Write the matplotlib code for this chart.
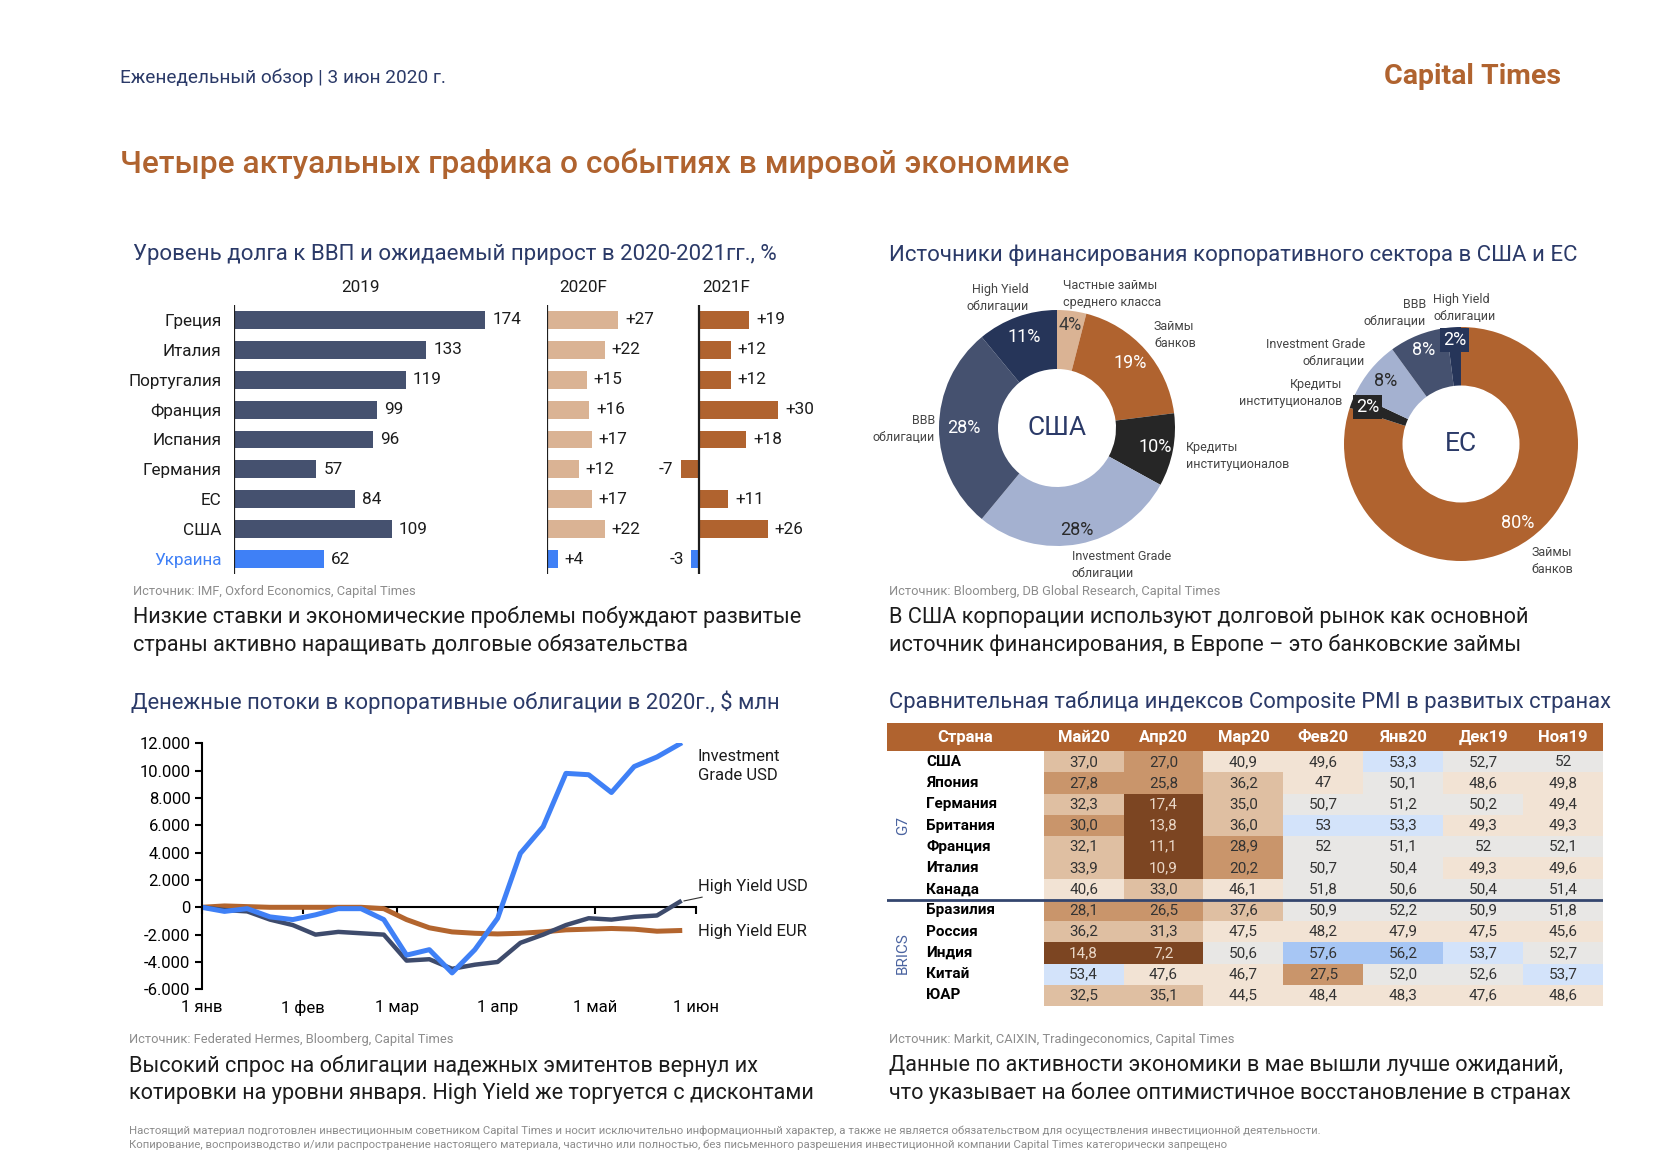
import matplotlib
matplotlib.use('Agg')
import matplotlib.pyplot as plt
import numpy as np
from matplotlib.colors import ListedColormap, BoundaryNorm

plt.rcParams['font.family'] = ['Roboto', 'DejaVu Sans']

W, H = 1680, 1162

NAVY = '#2b3a68'
BROWN = '#b0632f'
TAN = '#dab394'
SLATE = '#45516f'
DARKNAVY = '#263559'
LIGHT = '#a4b1d0'
DARK = '#262626'
BLUE = '#3f80f6'
GRAY = '#8c8c8c'
TXT = '#1c1c1c'

# --- data: debt to GDP
debt_countries = ['Греция', 'Италия', 'Португалия', 'Франция', 'Испания',
                  'Германия', 'ЕС', 'США', 'Украина']
debt_2019 = [174, 133, 119, 99, 96, 57, 84, 109, 62]
growth_2020 = [27, 22, 15, 16, 17, 12, 17, 22, 4]
growth_2021 = [19, 12, 12, 30, 18, -7, 11, 26, -3]

# --- data: financing sources
us_shares = [4, 19, 10, 28, 28, 11]
us_pct = ['4%', '19%', '10%', '28%', '28%', '11%']
eu_shares = [80, 2, 8, 8, 2]
eu_pct = ['80%', '2%', '8%', '8%', '2%']

# --- data: bond fund flows, $ mln (weekly, days since 1 Jan)
flow_days = [0, 7, 14, 21, 28, 35, 42, 49, 56, 63, 70, 77, 84, 91, 98, 105,
             112, 119, 126, 133, 140, 147]
ig_usd = [0, -300, -100, -700, -900, -550, -100, -100, -900, -3500, -3100,
          -4800, -3100, -800, 3950, 5900, 9800, 9700, 8400, 10300, 11000, 11950]
hy_usd = [0, -200, -300, -900, -1300, -2000, -1800, -1900, -2000, -3900,
          -3800, -4500, -4200, -4000, -2600, -2000, -1300, -800, -900, -700,
          -600, 400]
hy_eur = [0, 100, 50, 0, 0, 0, 0, 0, -100, -900, -1500, -1800, -1900, -1950,
          -1900, -1800, -1650, -1600, -1550, -1600, -1750, -1700]
month_days = [0, 31, 60, 91, 121, 152]
month_names = ['1 янв', '1 фев', '1 мар', '1 апр', '1 май', '1 июн']

# --- data: composite PMI
pmi_countries = ['США', 'Япония', 'Германия', 'Британия', 'Франция', 'Италия',
                 'Канада', 'Бразилия', 'Россия', 'Индия', 'Китай', 'ЮАР']
pmi_months = ['Май20', 'Апр20', 'Мар20', 'Фев20', 'Янв20', 'Дек19', 'Ноя19']
pmi_text = [
    ['37,0', '27,0', '40,9', '49,6', '53,3', '52,7', '52'],
    ['27,8', '25,8', '36,2', '47', '50,1', '48,6', '49,8'],
    ['32,3', '17,4', '35,0', '50,7', '51,2', '50,2', '49,4'],
    ['30,0', '13,8', '36,0', '53', '53,3', '49,3', '49,3'],
    ['32,1', '11,1', '28,9', '52', '51,1', '52', '52,1'],
    ['33,9', '10,9', '20,2', '50,7', '50,4', '49,3', '49,6'],
    ['40,6', '33,0', '46,1', '51,8', '50,6', '50,4', '51,4'],
    ['28,1', '26,5', '37,6', '50,9', '52,2', '50,9', '51,8'],
    ['36,2', '31,3', '47,5', '48,2', '47,9', '47,5', '45,6'],
    ['14,8', '7,2', '50,6', '57,6', '56,2', '53,7', '52,7'],
    ['53,4', '47,6', '46,7', '27,5', '52,0', '52,6', '53,7'],
    ['32,5', '35,1', '44,5', '48,4', '48,3', '47,6', '48,6'],
]


def box(l, t, r, b):
    return [l / W, 1 - b / H, (r - l) / W, (b - t) / H]


def ftext(x, y, s, **kw):
    kw.setdefault('va', 'center')
    fig.text(x / W, 1 - y / H, s, **kw)


fig = plt.figure(figsize=(W / 100, H / 100), dpi=100)
fig.patch.set_facecolor('white')

TITLE_FS = 16
CAP_FS = 15.6
SRC_FS = 9.3

# header
ftext(120, 78, 'Еженедельный обзор | 3 июн 2020 г.', fontsize=13.7, color=NAVY)
ftext(1561, 76, 'Capital Times', fontsize=20.5, fontweight='bold', color=BROWN, ha='right')
ftext(120, 164, 'Четыре актуальных графика о событиях в мировой экономике',
      fontsize=22.8, fontweight='medium', color=BROWN)

# ---------------- chart 1: debt bars
ftext(133, 255, 'Уровень долга к ВВП и ожидаемый прирост в 2020-2021гг., %',
      fontsize=TITLE_FS, color=NAVY)
ypos = np.arange(len(debt_countries))
ua = debt_countries.index('Украина')

panels = [
    (box(234, 305, 523, 574), debt_2019, (0, 200), SLATE, False, '2019', 360),
    (box(547, 305, 665.5, 574), growth_2020, (0, 45), TAN, True, '2020F', 583),
    (box(672.6, 305, 817.6, 574), growth_2021, (-10, 45), BROWN, True, '2021F', 726),
]
for rect, vals, xl, col, signed, head, hx in panels:
    ax = fig.add_axes(rect)
    cols = [BLUE if i == ua else col for i in range(len(vals))]
    ax.barh(ypos, vals, height=0.6, color=cols)
    ax.axvline(0, color='#1e1e1e', lw=1.6)
    ax.set_xlim(*xl)
    ax.set_ylim(len(vals) - 0.5, -0.5)
    for s in ax.spines.values():
        s.set_visible(False)
    ax.set_xticks([])
    for i, v in enumerate(vals):
        lab = (f'+{v}' if v > 0 else f'{v}') if signed else str(v)
        ax.annotate(lab, (v, i), xytext=(5 if v >= 0 else -5, 0),
                    textcoords='offset points', va='center',
                    ha='left' if v >= 0 else 'right', fontsize=12.3, color=TXT)
    if head == '2019':
        ax.set_yticks(ypos, debt_countries, fontsize=12.3)
        ax.tick_params(axis='y', length=0, pad=9)
        for i, t in enumerate(ax.get_yticklabels()):
            t.set_color(BLUE if i == ua else TXT)
    else:
        ax.set_yticks([])
    ftext(hx, 288, head, fontsize=12.3, color=TXT, ha='center')

ftext(133, 591, 'Источник: IMF, Oxford Economics, Capital Times', fontsize=SRC_FS, color=GRAY)
ftext(133, 617, 'Низкие ставки и экономические проблемы побуждают развитые',
      fontsize=CAP_FS, color=TXT)
ftext(133, 645, 'страны активно наращивать долговые обязательства',
      fontsize=CAP_FS, color=TXT)

# ---------------- chart 2: donuts
ftext(889, 255, 'Источники финансирования корпоративного сектора в США и ЕС',
      fontsize=TITLE_FS, color=NAVY)


def donut(cx, cy, R, shares, pcts, colors, pcolors, dists, name, boxed):
    ax = fig.add_axes(box(cx - R, cy - R, cx + R, cy + R))
    ax.pie(shares, colors=colors, startangle=90, counterclock=False, radius=1,
           wedgeprops=dict(width=0.5, linewidth=0))
    ax.set_xlim(-1, 1)
    ax.set_ylim(-1, 1)
    start = 0
    for sh, p, pc, d, bx, c in zip(shares, pcts, pcolors, dists, boxed, colors):
        mid = np.deg2rad((start + sh / 2) * 3.6)
        start += sh
        kw = {}
        if bx:
            kw['bbox'] = dict(boxstyle='square,pad=0.15', fc=c, ec='none')
        ax.text(d * np.sin(mid), d * np.cos(mid), p, fontsize=13, color=pc,
                ha='center', va='center', **kw)
    ax.text(0, 0, name, fontsize=19, color=NAVY, ha='center', va='center')


donut(1057, 428, 118, us_shares, us_pct,
      [TAN, BROWN, DARK, LIGHT, SLATE, DARKNAVY],
      ['#3a3a3a', 'white', 'white', '#2a2a2a', 'white', 'white'],
      [0.88, 0.83, 0.85, 0.88, 0.79, 0.82], 'США', [False] * 6)
donut(1461, 444, 117, eu_shares, eu_pct,
      [BROWN, DARK, LIGHT, SLATE, DARKNAVY],
      ['white', 'white', '#2a2a2a', 'white', 'white'],
      [0.83, 0.86, 0.84, 0.86, 0.89], 'ЕС', [False, True, False, False, True])

lab_kw = dict(fontsize=9, color='#444444', linespacing=1.35)
ftext(1029, 298, 'High Yield\nоблигации', ha='right', multialignment='right', **lab_kw)
ftext(1063, 294, 'Частные займы\nсреднего класса', ha='left', **lab_kw)
ftext(1154, 335, 'Займы\nбанков', ha='left', **lab_kw)
ftext(935, 429, 'BBB\nоблигации', ha='right', multialignment='right', **lab_kw)
ftext(1186, 456, 'Кредиты\nинституционалов', ha='left', **lab_kw)
ftext(1072, 565, 'Investment Grade\nоблигации', ha='left', **lab_kw)
ftext(1433, 308, 'High Yield\nоблигации', ha='left', **lab_kw)
ftext(1426, 313, 'BBB\nоблигации', ha='right', multialignment='right', **lab_kw)
ftext(1365, 353, 'Investment Grade\nоблигации', ha='right', multialignment='right', **lab_kw)
ftext(1342, 393, 'Кредиты\nинституционалов', ha='right', multialignment='right', **lab_kw)
ftext(1531, 561, 'Займы\nбанков', ha='left', **lab_kw)

ftext(889, 592, 'Источник: Bloomberg, DB Global Research, Capital Times', fontsize=SRC_FS, color=GRAY)
ftext(889, 617, 'В США корпорации используют долговой рынок как основной',
      fontsize=CAP_FS, color=TXT)
ftext(889, 645, 'источник финансирования, в Европе – это банковские займы',
      fontsize=CAP_FS, color=TXT)

# ---------------- chart 3: flows
ftext(131, 702, 'Денежные потоки в корпоративные облигации в 2020г., $ млн',
      fontsize=TITLE_FS - 0.2, color=NAVY)
ax4 = fig.add_axes(box(201.7, 743.3, 696, 989.3))
ax4.plot(flow_days, hy_eur, color='#b3652e', lw=3.6, solid_joinstyle='round')
ax4.plot(flow_days, hy_usd, color='#3e4b6c', lw=3.2, solid_joinstyle='round')
ax4.plot(flow_days, ig_usd, color=BLUE, lw=3.6, solid_joinstyle='round')
ax4.set_xlim(0, 152)
ax4.set_ylim(-6000, 12000)
for s in ['top', 'right', 'bottom']:
    ax4.spines[s].set_visible(False)
ax4.spines['left'].set_linewidth(1.5)
yt = list(range(-6000, 12001, 2000))
ax4.set_yticks(yt, [f'{v:,}'.replace(',', '.') for v in yt])
ax4.tick_params(axis='y', direction='out', length=5, width=1.5, labelsize=12, pad=3)
ax4.set_xticks(month_days, month_names)
ax4.tick_params(axis='x', length=0, labelsize=12, pad=8)
ax4.patch.set_alpha(0)
zero = ax4.secondary_xaxis(1 / 3)
zero.set_xticks(month_days, [])
zero.tick_params(direction='out', length=5, width=1.5)
zero.spines['bottom'].set_linewidth(1.5)

ax4.annotate('Investment\nGrade USD', (flow_days[-1], ig_usd[-1]), xytext=(13, -16),
             textcoords='offset points', fontsize=12, color=TXT, va='center',
             linespacing=1.3)
ax4.annotate('High Yield USD', (flow_days[-1], hy_usd[-1]), xytext=(13, 11),
             textcoords='offset points', fontsize=12, color=TXT, va='center',
             arrowprops=dict(arrowstyle='-', color='#333333', lw=0.8,
                             shrinkA=1, shrinkB=3))
ax4.annotate('High Yield EUR', (flow_days[-1], hy_eur[-1]), xytext=(13, -1),
             textcoords='offset points', fontsize=12, color=TXT, va='center')

ftext(129, 1040, 'Источник: Federated Hermes, Bloomberg, Capital Times', fontsize=SRC_FS, color=GRAY)
ftext(129, 1066, 'Высокий спрос на облигации надежных эмитентов вернул их',
      fontsize=CAP_FS, color=TXT)
ftext(129, 1093, 'котировки на уровни января. High Yield же торгуется с дисконтами',
      fontsize=CAP_FS, color=TXT)

# ---------------- chart 4: PMI table
ftext(889, 702, 'Сравнительная таблица индексов Composite PMI в развитых странах',
      fontsize=TITLE_FS - 0.2, color=NAVY)
ax5 = fig.add_axes(box(887, 723, 1603, 1006))
name_w, head_h = 1.96, 1.33
ncol, nrow = len(pmi_months), len(pmi_countries)
ax5.set_xlim(0, name_w + ncol)
ax5.set_ylim(head_h + nrow, 0)
ax5.axis('off')
ax5.axhspan(0, head_h, color=BROWN, lw=0)

pmi_vals = np.array([[float(t.replace(',', '.')) for t in r] for r in pmi_text])
cmap = ListedColormap(['#7c4522', '#c9956b', '#dfbfa2', '#f2e3d4', '#e8e7e5',
                       '#d3e3fa', '#a7c6f4'])
norm = BoundaryNorm([0, 18, 31, 38, 50, 53, 55, 70], cmap.N)
ax5.pcolormesh(name_w + np.arange(ncol + 1), head_h + np.arange(nrow + 1),
               pmi_vals, cmap=cmap, norm=norm)

ax5.text(name_w / 2, head_h / 2, 'Страна', color='white', fontsize=12,
         fontweight='bold', ha='center', va='center')
for j, m in enumerate(pmi_months):
    ax5.text(name_w + j + 0.5, head_h / 2, m, color='white', fontsize=12,
             fontweight='bold', ha='center', va='center')
for i, c in enumerate(pmi_countries):
    yc = head_h + i + 0.5
    ax5.text(0.49, yc, c, fontsize=11, fontweight='bold', color='black',
             ha='left', va='center')
    for j, t in enumerate(pmi_text[i]):
        tc = '#ead8c8' if pmi_vals[i, j] < 18 else '#333333'
        ax5.text(name_w + j + 0.5, yc, t, fontsize=11, color=tc,
                 ha='center', va='center')
ax5.axhline(head_h + 7, color='#34466f', lw=2)
ax5.text(0.2, head_h + 3.5, 'G7', rotation=90, fontsize=11, color='#4a63a0',
         ha='center', va='center')
ax5.text(0.2, head_h + 9.5, 'BRICS', rotation=90, fontsize=11, color='#4a63a0',
         ha='center', va='center')

ftext(889, 1040, 'Источник: Markit, CAIXIN, Tradingeconomics, Capital Times',
      fontsize=SRC_FS, color=GRAY)
ftext(889, 1066, 'Данные по активности экономики в мае вышли лучше ожиданий,',
      fontsize=CAP_FS, color=TXT)
ftext(889, 1093, 'что указывает на более оптимистичное восстановление в странах',
      fontsize=CAP_FS, color=TXT)

# footer
ftext(129, 1131, 'Настоящий материал подготовлен инвестиционным советником Capital Times '
      'и носит исключительно информационный характер, а также не является '
      'обязательством для осуществления инвестиционной деятельности.',
      fontsize=8.2, color=GRAY)
ftext(129, 1145, 'Копирование, воспроизводство и/или распространение настоящего материала, '
      'частично или полностью, без письменного разрешения инвестиционной компании '
      'Capital Times категорически запрещено', fontsize=8.2, color=GRAY)

fig.savefig('out.png', dpi=100, facecolor='white')
